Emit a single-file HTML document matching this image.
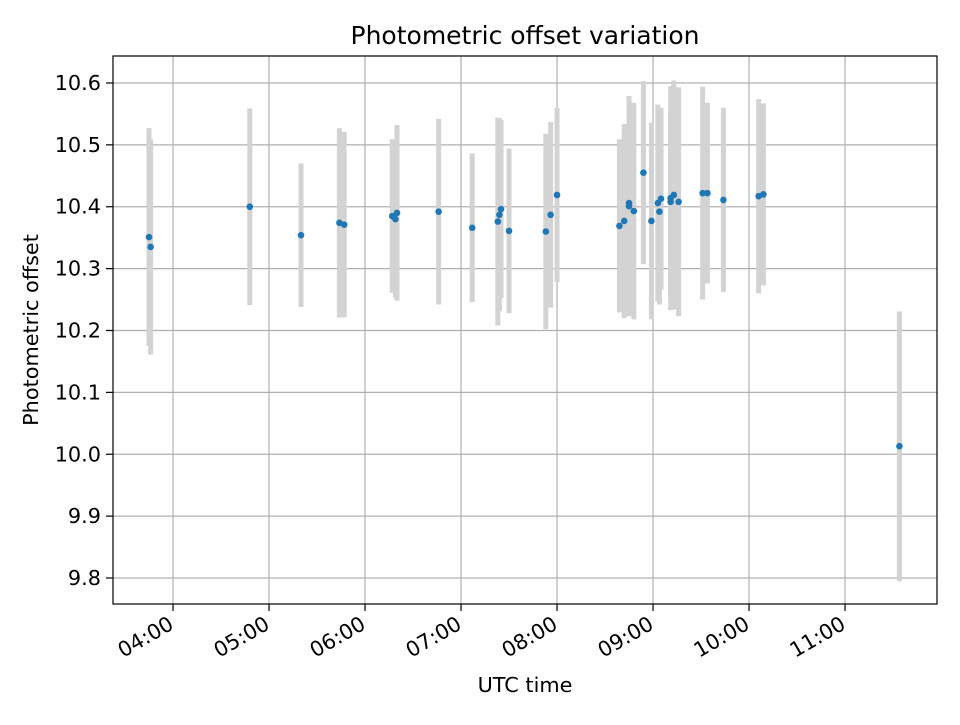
<!DOCTYPE html>
<html><head><meta charset="utf-8"><style>
body{margin:0;background:#fff;}
svg text{font-family:"DejaVu Sans","Liberation Sans",sans-serif;}
</style></head><body>
<svg id="chart" width="960" height="720" xmlns="http://www.w3.org/2000/svg">
<rect width="960" height="720" fill="#fff"/>
<text x="525" y="44" text-anchor="middle" font-size="25">Photometric offset variation</text>
<g id="grid"></g>
<g id="errs"></g>
<g id="pts"></g>
<rect x="113" y="56" width="824" height="548" fill="none" stroke="#000" stroke-width="1.2"/>
<g id="axes"></g>
<text x="525" y="692" text-anchor="middle" font-size="20.8">UTC time</text>
<text transform="translate(38,330) rotate(-90)" text-anchor="middle" font-size="20.8">Photometric offset</text>
</svg>
<script>
const times=["03:45","03:46","04:48","05:20","05:44","05:47","06:17","06:19","06:20","06:46","07:07","07:23","07:24","07:25","07:30","07:53","07:56","08:00","08:39","08:42","08:45","08:45","08:48","08:54","08:59","09:03","09:04","09:05","09:11","09:11","09:13","09:16","09:31","09:34","09:44","10:06","10:09","11:34"];
const offsets=[10.351,10.335,10.400,10.354,10.374,10.371,10.385,10.380,10.390,10.392,10.366,10.376,10.387,10.396,10.361,10.360,10.387,10.419,10.369,10.377,10.406,10.401,10.393,10.455,10.377,10.406,10.392,10.413,10.414,10.408,10.419,10.408,10.422,10.422,10.411,10.417,10.420,10.013];
const errors=[0.176,0.174,0.159,0.116,0.153,0.150,0.124,0.127,0.142,0.150,0.120,0.168,0.156,0.144,0.133,0.158,0.150,0.141,0.140,0.157,0.170,0.178,0.175,0.148,0.159,0.159,0.150,0.147,0.181,0.150,0.185,0.185,0.172,0.146,0.149,0.157,0.147,0.218];
const xTicks=["04:00","05:00","06:00","07:00","08:00","09:00","10:00","11:00"];
const yTicks=[9.8,9.9,10.0,10.1,10.2,10.3,10.4,10.5,10.6];
const X0=113,X1=937,Y0=56,Y1=604,xmin=3.375,xmax=11.958,ymin=9.758,ymax=10.6436;
const NS="http://www.w3.org/2000/svg";
function hrs(t){const p=t.split(":");return +p[0]+(+p[1])/60;}
function sx(t){return X0+(hrs(t)-xmin)/(xmax-xmin)*(X1-X0);}
function sy(v){return Y1-(v-ymin)/(ymax-ymin)*(Y1-Y0);}
function mk(tag,at,parent){const e=document.createElementNS(NS,tag);for(const k in at)e.setAttribute(k,at[k]);document.getElementById(parent).appendChild(e);return e;}
xTicks.forEach(t=>{const x=sx(t);
 const g=mk("line",{x1:x,x2:x,y1:Y0,y2:Y1,stroke:"#b0b0b0","stroke-width":1.2},"grid");
 
 
 const tk=mk("line",{x1:x,x2:x,y1:Y1,y2:Y1+7,stroke:"#000","stroke-width":1.2},"axes");
 
 
 const lb=mk("text",{x:x+2,y:Y1+24,"font-size":"20.8","text-anchor":"end",transform:`rotate(-30 ${x+2} ${Y1+24})`},"axes");
 lb.textContent=t;
 
 
});
yTicks.forEach(v=>{const y=sy(v);
 const g=mk("line",{x1:X0,x2:X1,y1:y,y2:y,stroke:"#b0b0b0","stroke-width":1.2},"grid");
 
 
 const tk=mk("line",{x1:X0-7,x2:X0,y1:y,y2:y,stroke:"#000","stroke-width":1.2},"axes");
 
 
 const lb=mk("text",{x:X0-12,y:y+7,"font-size":"20.8","text-anchor":"end"},"axes");
 lb.textContent=v.toFixed(1);
 
 
});
times.forEach((t,i)=>{const x=sx(t);
 const e=mk("line",{x1:x,x2:x,y1:sy(offsets[i]+errors[i]),y2:sy(offsets[i]-errors[i]),stroke:"#d3d3d3","stroke-width":5},"errs");
 
 
 const c=mk("circle",{cx:x,cy:sy(offsets[i]),r:3.3,fill:"#1f77b4"},"pts");
 
 
});
</script>
</body></html>
